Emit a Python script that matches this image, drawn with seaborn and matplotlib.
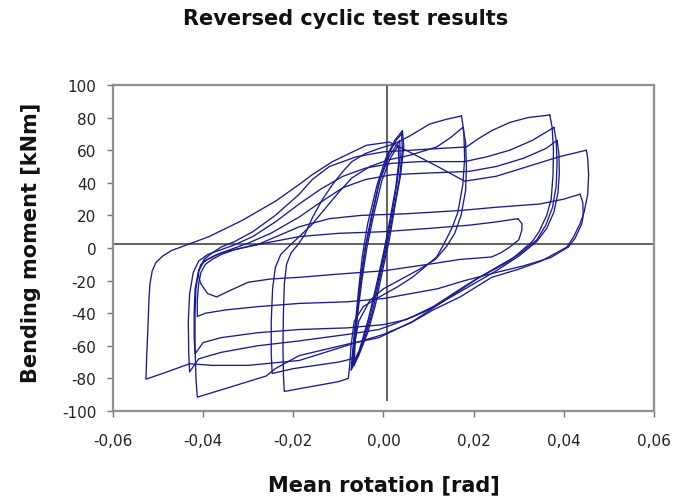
import matplotlib
matplotlib.use("Agg")
import matplotlib.pyplot as plt
import numpy as np
import pandas as pd
import seaborn as sns

# ---- measured hysteresis loops: mean rotation [rad] and bending moment [kNm] ----
# small elastic cycles
loop_s1_rot = [0.0042, 0.0045, 0.0038, 0.0025, 0.0013, -0.0003, -0.0018, -0.0035, -0.0055, -0.0072,
               -0.0068, -0.0062, -0.0055, -0.0047, -0.0035, -0.0015, 0.0005, 0.0025, 0.0042]
loop_s1_mom = [72, 62, 45, 25, 5, -15, -35, -52, -66, -75, -62, -45, -25, -5, 15, 38, 55, 66, 72]

loop_s2_rot = [0.0040, 0.0042, 0.0035, 0.0022, 0.0008, -0.0008, -0.0025, -0.0045, -0.0065,
               -0.0063, -0.0058, -0.0050, -0.0040, -0.0025, -0.0008, 0.0012, 0.0028, 0.0040]
loop_s2_mom = [70, 60, 42, 22, 2, -18, -40, -58, -72, -58, -40, -20, 0, 20, 42, 58, 66, 70]

loop_s3_rot = [0.0036, 0.0037, 0.0030, 0.0018, 0.0004, -0.0012, -0.0030, -0.0052, -0.0070,
               -0.0066, -0.0060, -0.0052, -0.0042, -0.0028, -0.0010, 0.0012, 0.0036]
loop_s3_mom = [66, 56, 40, 20, 0, -20, -42, -62, -73, -60, -42, -22, -2, 18, 40, 56, 66]

loop_s4_rot = [0.0033, 0.0034, 0.0027, 0.0014, 0.0000, -0.0016, -0.0034, -0.0054, -0.0068,
               -0.0064, -0.0057, -0.0048, -0.0037, -0.0022, -0.0004, 0.0015, 0.0033]
loop_s4_mom = [63, 53, 37, 17, -3, -23, -44, -63, -71, -58, -40, -20, 0, 20, 41, 55, 63]

# cycles to about +0.018 / -0.024
loop_m1_rot = [0.0173, 0.0178, 0.0180, 0.0176, 0.0165, 0.0153, 0.0135, 0.0118, 0.0090, 0.0064,
               0.0030, -0.0009, -0.0045, -0.0065, -0.0072, -0.0075, -0.0078, -0.0100, -0.0140, -0.0180,
               -0.0220, -0.0222, -0.0223, -0.0222, -0.0220, -0.0215, -0.0205, -0.0190, -0.0175, -0.0157,
               -0.0135, -0.0113, -0.0090, -0.0070, -0.0040, -0.0010, 0.0025, 0.0060, 0.0102, 0.0140,
               0.0173]
loop_m1_mom = [81, 72, 55, 39, 22, 13, 3, -5.5, -12, -18,
               -24, -30, -36, -45, -60, -72, -80, -82, -84, -86,
               -88, -78, -60, -40, -22, -10, -3, 2, 8, 19,
               30, 39, 47, 53, 58, 61, 64, 69, 76, 79,
               81]

loop_m2_rot = [0.0176, 0.0182, 0.0184, 0.0182, 0.0172, 0.0158, 0.0140, 0.0115, 0.0080, 0.0040,
               0.0000, -0.0030, -0.0055, -0.0065, -0.0070, -0.0100, -0.0150, -0.0200, -0.0247, -0.0249,
               -0.0249, -0.0246, -0.0240, -0.0228, -0.0210, -0.0187, -0.0160, -0.0130, -0.0100, -0.0070,
               -0.0030, 0.0010, 0.0060, 0.0118, 0.0150, 0.0176]
loop_m2_mom = [74, 65, 50, 35, 20, 9, 1, -7, -13, -19,
               -25, -32, -45, -60, -68, -70, -72, -74, -77, -65,
               -45, -25, -12, -4, 1, 7, 14, 24, 34, 43,
               50, 54, 57, 62, 68, 74]

# cycles to about +0.037 / -0.042
loop_l1_rot = [0.0369, 0.0374, 0.0377, 0.0376, 0.0372, 0.0362, 0.0345, 0.0330, 0.0280, 0.0213,
               0.0169, 0.0120, 0.0065, 0.0020, -0.0010, -0.0080, -0.0187, -0.0240, -0.0260, -0.0336,
               -0.0413, -0.0416, -0.0418, -0.0418, -0.0416, -0.0410, -0.0398, -0.0380, -0.0360, -0.0330,
               -0.0290, -0.0240, -0.0187, -0.0158, -0.0120, -0.0060, 0.0000, 0.0060, 0.0120, 0.0184,
               0.0210, 0.0240, 0.0280, 0.0320, 0.0369]
loop_l1_mom = [81.6, 74, 60, 45, 30, 20, 10, 4, -8, -18,
               -26, -35, -45, -51, -55, -59, -66, -74, -78.5, -85,
               -91.5, -80, -60, -40, -25, -14, -7, -3, 0.6, 4,
               10, 20, 33, 42, 50, 56, 59, 60, 61, 62,
               67, 72, 77, 80, 81.6]

loop_l2_rot = [0.0378, 0.0383, 0.0385, 0.0383, 0.0375, 0.0360, 0.0340, 0.0300, 0.0250, 0.0200,
               0.0160, 0.0110, 0.0065, 0.0020, -0.0010, -0.0080, -0.0187, -0.0280, -0.0360, -0.0410,
               -0.0430, -0.0432, -0.0433, -0.0430, -0.0422, -0.0410, -0.0390, -0.0360, -0.0330, -0.0290,
               -0.0240, -0.0187, -0.0140, -0.0090, -0.0040, 0.0020, 0.0080, 0.0130, 0.0180, 0.0230,
               0.0280, 0.0330, 0.0378]
loop_l2_mom = [74, 66, 52, 38, 25, 14, 5, -4, -12, -20,
               -27, -36, -42, -47, -50, -53, -57, -60, -64, -68,
               -76, -65, -45, -28, -15, -8, -4, -1, 2, 7,
               16, 27, 36, 44, 49, 52, 53, 53, 53, 56,
               60, 66, 74]

loop_l3_rot = [0.0385, 0.0389, 0.0390, 0.0387, 0.0378, 0.0362, 0.0340, 0.0300, 0.0250, 0.0200,
               0.0150, 0.0100, 0.0050, 0.0000, -0.0080, -0.0187, -0.0280, -0.0360, -0.0400, -0.0418,
               -0.0420, -0.0420, -0.0418, -0.0410, -0.0398, -0.0370, -0.0340, -0.0300, -0.0250, -0.0187,
               -0.0140, -0.0090, -0.0040, 0.0020, 0.0100, 0.0190, 0.0250, 0.0310, 0.0360, 0.0385]
loop_l3_mom = [66, 58, 46, 34, 22, 12, 4, -5, -14, -22,
               -30, -38, -44, -47, -49, -50, -52, -55, -58, -65,
               -55, -40, -25, -14, -8, -4, -1, 3, 9, 19,
               28, 37, 42, 45, 46, 47, 50, 55, 61, 66]

# widest cycle, to about +0.045 / -0.053
loop_a_rot = [0.0450, 0.0453, 0.0455, 0.0453, 0.0445, 0.0436, 0.0422, 0.0407, 0.0350, 0.0300,
              0.0240, 0.0170, 0.0110, 0.0060, 0.0000, -0.0060, -0.0187, -0.0300, -0.0380, -0.0430,
              -0.0480, -0.0527, -0.0525, -0.0522, -0.0520, -0.0518, -0.0513, -0.0505, -0.0490, -0.0470,
              -0.0450, -0.0387, -0.0313, -0.0238, -0.0187, -0.0158, -0.0113, -0.0038, 0.0013, 0.0064,
              0.0120, 0.0180, 0.0250, 0.0320, 0.0390, 0.0450]
loop_a_mom = [60, 55, 45, 33, 22, 15, 7, 0.6, -8, -13,
              -18, -30, -38, -46, -53, -58, -69, -72, -72, -71,
              -76, -80.5, -65, -45, -30, -22, -14, -9, -5, -1.5,
              0.5, 7, 17, 29, 39, 45, 53, 63, 65, 58,
              50, 41, 44, 50, 56, 60]

# degraded final cycles
loop_b_rot = [0.0436, 0.0442, 0.0443, 0.0440, 0.0425, 0.0410, 0.0370, 0.0310, 0.0250, 0.0180,
              0.0120, 0.0060, 0.0000, -0.0080, -0.0187, -0.0280, -0.0350, -0.0395, -0.0413, -0.0413,
              -0.0410, -0.0405, -0.0395, -0.0380, -0.0360, -0.0330, -0.0280, -0.0187, -0.0120, -0.0050,
              0.0050, 0.0170, 0.0250, 0.0347, 0.0400, 0.0436]
loop_b_mom = [33, 28, 20, 15, 6, 0.6, -6, -11, -15, -20,
              -25, -28, -31, -33, -34, -36, -38, -40, -42, -32,
              -22, -15, -10, -7, -4, -1, 2, 13, 18, 20,
              21, 23, 25, 27, 30, 33]

loop_c_rot = [0.0298, 0.0307, 0.0307, 0.0300, 0.0280, 0.0260, 0.0240, 0.0170, 0.0100, 0.0000,
              -0.0100, -0.0187, -0.0250, -0.0300, -0.0340, -0.0370, -0.0390, -0.0405, -0.0410, -0.0410,
              -0.0405, -0.0390, -0.0360, -0.0300, -0.0187, -0.0100, 0.0000, 0.0100, 0.0190, 0.0250,
              0.0298]
loop_c_mom = [18, 15, 11, 5, 0.6, -3, -5.5, -7, -10, -14,
              -16, -18, -19, -21, -26, -30, -28, -22, -18, -14,
              -10, -7, -3, 1, 7, 9, 10, 12, 14, 16,
              18]

x_ticks = [-0.06, -0.04, -0.02, 0.00, 0.02, 0.04, 0.06]
x_tick_labels = ["-0,06", "-0,04", "-0,02", "0,00", "0,02", "0,04", "0,06"]
y_ticks = [-100, -80, -60, -40, -20, 0, 20, 40, 60, 80, 100]
y_tick_labels = [str(v) for v in y_ticks]

loops = {
    "s1": (loop_s1_rot, loop_s1_mom), "s2": (loop_s2_rot, loop_s2_mom),
    "s3": (loop_s3_rot, loop_s3_mom), "s4": (loop_s4_rot, loop_s4_mom),
    "m1": (loop_m1_rot, loop_m1_mom), "m2": (loop_m2_rot, loop_m2_mom),
    "l1": (loop_l1_rot, loop_l1_mom), "l2": (loop_l2_rot, loop_l2_mom),
    "l3": (loop_l3_rot, loop_l3_mom), "a": (loop_a_rot, loop_a_mom),
    "b": (loop_b_rot, loop_b_mom), "c": (loop_c_rot, loop_c_mom),
}
frames = []
order = 0
for name, (rot, mom) in loops.items():
    assert len(rot) == len(mom), name
    frames.append(pd.DataFrame({"rotation": rot, "moment": mom, "loop": name,
                                "step": np.arange(order, order + len(rot))}))
    order += len(rot)
df = pd.concat(frames, ignore_index=True)

sns.set_theme(style="white")
plt.rcParams["font.family"] = ["DejaVu Sans"]

fig = plt.figure(figsize=(6.79, 5.02), dpi=100)
ax = fig.add_axes([113 / 679, 1 - 412 / 502, 541 / 679, 326 / 502])

# reference cross
ax.axhline(2.5, color="#555555", lw=1.3, zorder=1)
ax.vlines(0.0007, -94, 100, color="#555555", lw=1.3, zorder=1)

sns.lineplot(data=df, x="rotation", y="moment", units="loop", estimator=None, sort=False,
             color="#1a1a92", lw=0.95, ax=ax, zorder=3)

ax.set_xlim(-0.06, 0.06)
ax.set_ylim(-100, 100)
ax.set_xticks(x_ticks)
ax.set_xticklabels(x_tick_labels)
ax.set_yticks(y_ticks)
ax.set_yticklabels(y_tick_labels)

for side, sp in ax.spines.items():
    sp.set_color("#909090")
    sp.set_linewidth(1.6)

ax.tick_params(axis="both", which="major", direction="out", length=4, width=1,
               color="#777777", labelsize=11, labelcolor="#222222", left=True, bottom=True)
ax.tick_params(axis="x", pad=12)
ax.tick_params(axis="y", pad=8)

ax.set_xlabel("Mean rotation [rad]", fontsize=15, fontweight="bold", color="#111111")
ax.set_ylabel("Bending moment [kNm]", fontsize=15, fontweight="bold", color="#111111")
ax.xaxis.set_label_coords(0.5, -0.224)
ax.xaxis.label.set_va("center")
ax.yaxis.set_label_coords(-0.152, 0.52)
ax.yaxis.label.set_va("center")

fig.text(346 / 679, 1 - 19 / 502, "Reversed cyclic test results", ha="center", va="center",
         fontsize=15, fontweight="bold", color="#111111")

fig.savefig("out.png", dpi=100, facecolor="white")
